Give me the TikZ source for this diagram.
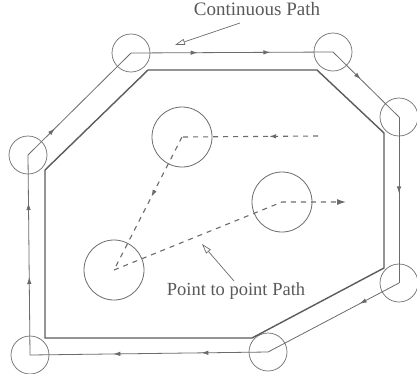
\documentclass[tikz,border=0pt]{standalone}
\usepackage{fontspec}
\setmainfont{Liberation Serif}
\usetikzlibrary{arrows.meta,decorations.markings}
\definecolor{ln}{gray}{0.42}
\definecolor{tx}{gray}{0.35}
\tikzset{
 corner/.style={circle,draw=ln,line width=0.7pt,minimum size=38pt,inner sep=0pt},
 hole/.style={circle,draw=ln,line width=0.8pt,minimum size=60pt,inner sep=0pt},
 tool/.style={draw=ln,line width=0.8pt},
 part/.style={draw=ln!85!black,line width=1.4pt,line join=miter},
 pp/.style={draw=ln,line width=1.1pt,dash pattern=on 5pt off 5pt},
 arr/.style={postaction={decorate,decoration={markings,mark=at position #1 with {\arrow{Latex[length=7pt,width=4.5pt]}}}}},
 lead/.style={draw=ln,line width=0.7pt,-{Triangle[open,length=10pt,width=6pt]}},
 lab/.style={text=tx,inner sep=0pt}
}
\begin{document}
\begin{tikzpicture}[x=1pt,y=-1pt]
\useasboundingbox (0,0) rectangle (417,373);
% corner circles of the tool path
\node[corner] (c1) at (30,355) {};
\node[corner] (c2) at (28,155) {};
\node[corner] (c3) at (131,53) {};
\node[corner] (c4) at (333,52) {};
\node[corner] (c5) at (399,117) {};
\node[corner] (c6) at (399,283) {};
\node[corner] (c7) at (268,352) {};
% continuous tool path
\draw[tool,arr=0.39,arr=0.76] (c1.center) -- (c2.center);
\draw[tool,arr=0.26] (c2.center) -- (c3.center);
\draw[tool,arr=0.33,arr=0.69] (c3.center) -- (c4.center);
\draw[tool,arr=0.42] (c4.center) -- (c5.center);
\draw[tool,arr=0.46] (c5.center) -- (c6.center);
\draw[tool,arr=0.30] (c6.center) -- (c7.center);
\draw[tool,arr=0.28,arr=0.65] (c7.center) -- (c1.center);
% part profile
\coordinate (q1) at (45,338);
\coordinate (q2) at (45,170);
\coordinate (q3) at (148,70);
\coordinate (q4) at (317,70);
\coordinate (q5) at (384,133);
\coordinate (q6) at (384,268);
\coordinate (q7) at (252,338);
\draw[part] (q1) -- (q2) -- (q3) -- (q4) -- (q5) -- (q6) -- (q7) -- cycle;
% holes
\node[hole] (h1) at (182,137) {};
\node[hole] (h2) at (282,202) {};
\node[hole] (h3) at (114,270) {};
% point to point path
\coordinate (d0) at (318,136);
\coordinate (d1) at (346,202);
\draw[pp,arr=0.36] (d0) -- (h1.center);
\draw[pp,arr=0.45] (h1.center) -- (h3.center);
\draw[pp,-{Latex[length=9pt,width=6pt]}] (h3.center) -- (h2.center) -- (d1);
% labels
\node[lab,anchor=base,font=\fontsize{19}{21}\selectfont] (t1) at (257,15) {Continuous Path};
\coordinate (a1) at (240,23);
\coordinate (a1e) at (175,45);
\draw[lead] (a1) -- (a1e);
\node[lab,anchor=base,font=\fontsize{18.5}{20}\selectfont] (t2) at (236,295) {Point to point Path};
\coordinate (a2) at (234,281);
\coordinate (a2e) at (202,244);
\draw[lead] (a2) -- (a2e);
\end{tikzpicture}
\end{document}
